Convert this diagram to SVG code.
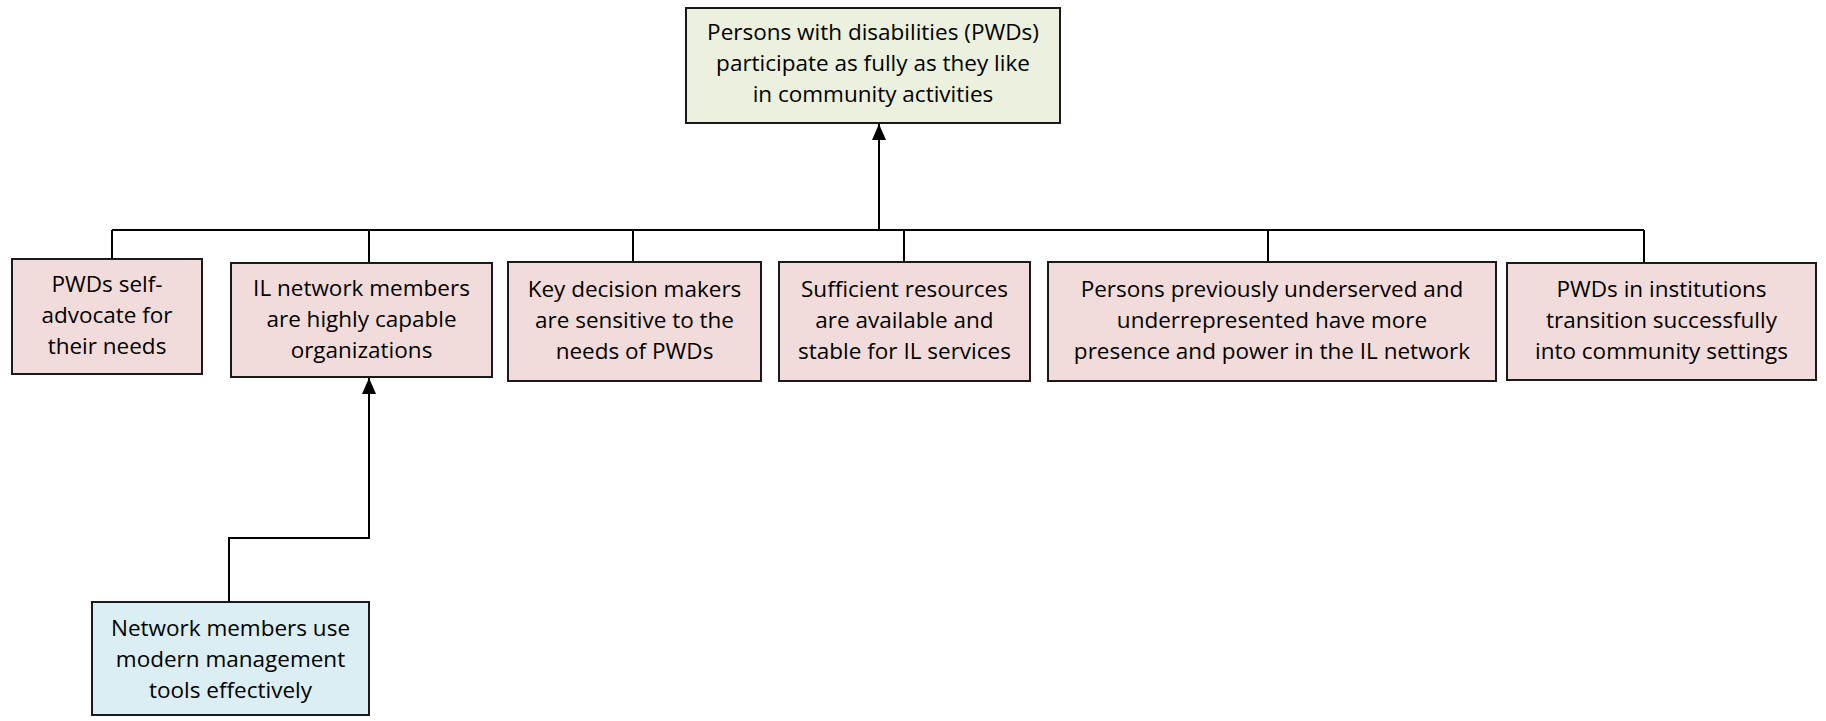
<svg xmlns="http://www.w3.org/2000/svg" width="1826" height="721" viewBox="0 0 1826 721">
<defs>
<style>
.box{stroke:#1a1a1a;stroke-width:2}
.pink{fill:#F2DCDB}
.green{fill:#EBF1DE}
.blue{fill:#DBEEF4}
.t{font-family:"Open Sans","Liberation Sans",sans-serif;font-size:22.5px;fill:#000;text-anchor:middle}
.ln{fill:none;stroke:#000;stroke-width:2}
</style>
<marker id="arr" markerWidth="16" markerHeight="14" refX="16" refY="7" orient="auto" markerUnits="userSpaceOnUse" viewBox="0 0 16 14">
<path d="M0,0 L16,7 L0,14 Z" fill="#000"/>
</marker>
</defs>
<rect width="1826" height="721" fill="#fff"/>
<g id="connectors">
<path class="ln" d="M112,230 H1644"/>
<path class="ln" d="M112,230 V259"/>
<path class="ln" d="M369,230 V263"/>
<path class="ln" d="M633,230 V262"/>
<path class="ln" d="M904,230 V265"/>
<path class="ln" d="M1268,230 V262"/>
<path class="ln" d="M1644,230 V263"/>
<path class="ln" d="M879,230 V124" marker-end="url(#arr)"/>
<path class="ln" d="M229,602 V538 H369 V378" marker-end="url(#arr)"/>
</g>
<g id="goal">
<rect class="box green" x="686" y="8" width="374" height="115"/>
<text class="t" x="873" y="40">Persons with disabilities (PWDs)</text>
<text class="t" x="873" y="71">participate as fully as they like</text>
<text class="t" x="873" y="102">in community activities</text>
</g>
<g id="n1">
<rect class="box pink" x="12" y="259" width="190" height="115"/>
<text class="t" x="107" y="292">PWDs self-</text>
<text class="t" x="107" y="323">advocate for</text>
<text class="t" x="107" y="354">their needs</text>
</g>
<g id="n2">
<rect class="box pink" x="231" y="263" width="261" height="114"/>
<text class="t" x="361.5" y="296">IL network members</text>
<text class="t" x="361.5" y="327">are highly capable</text>
<text class="t" x="361.5" y="358">organizations</text>
</g>
<g id="n3">
<rect class="box pink" x="508" y="262" width="253" height="119"/>
<text class="t" x="634.5" y="297">Key decision makers</text>
<text class="t" x="634.5" y="328">are sensitive to the</text>
<text class="t" x="634.5" y="359">needs of PWDs</text>
</g>
<g id="n4">
<rect class="box pink" x="779" y="262" width="251" height="119"/>
<text class="t" x="904.5" y="297">Sufficient resources</text>
<text class="t" x="904.5" y="328">are available and</text>
<text class="t" x="904.5" y="359">stable for IL services</text>
</g>
<g id="n5">
<rect class="box pink" x="1048" y="262" width="448" height="119"/>
<text class="t" x="1272" y="297">Persons previously underserved and</text>
<text class="t" x="1272" y="328">underrepresented have more</text>
<text class="t" x="1272" y="359">presence and power in the IL network</text>
</g>
<g id="n6">
<rect class="box pink" x="1507" y="263" width="309" height="117"/>
<text class="t" x="1661.5" y="297">PWDs in institutions</text>
<text class="t" x="1661.5" y="328">transition successfully</text>
<text class="t" x="1661.5" y="359">into community settings</text>
</g>
<g id="n7">
<rect class="box blue" x="92" y="602" width="277" height="113"/>
<text class="t" x="230.5" y="636">Network members use</text>
<text class="t" x="230.5" y="667">modern management</text>
<text class="t" x="230.5" y="698">tools effectively</text>
</g>
</svg>
